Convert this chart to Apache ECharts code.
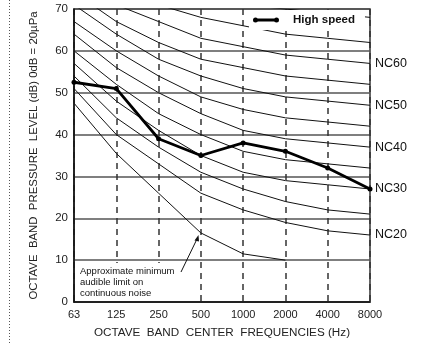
<!DOCTYPE html>
<html><head><meta charset="utf-8">
<script src="https://cdn.jsdelivr.net/npm/echarts@6/dist/echarts.min.js"></script>
<style>html,body{margin:0;padding:0;background:#fff}#c{width:422px;height:344px}</style>
</head><body><div id="c"></div>
<script>
const categories = ['63','125','250','500','1000','2000','4000','8000'];
const highSpeed = [52.5, 51, 39, 35, 38, 36, 32, 27];
const nc20 = [51, 40, 33, 26, 22, 19, 17, 16];
const nc25 = [54, 44, 37, 31, 27, 24, 22, 21];
const nc30 = [57, 48, 41, 35, 31, 29, 28, 27];
const nc35 = [60, 52, 45, 40, 36, 34, 33, 32];
const nc40 = [64, 56, 50, 45, 41, 39, 38, 37];
const nc45 = [67, 60, 54, 49, 46, 44, 43, 42];
const nc50 = [71, 64, 58, 54, 51, 49, 48, 47];
const nc55 = [74, 67, 62, 58, 56, 54, 53, 52];
const nc60 = [77, 71, 67, 63, 61, 59, 58, 57];
const nc65 = [80, 75, 71, 68, 66, 64, 63, 62];
const nc70 = [83, 79, 75, 72, 71, 70, 69, 68];
const threshold = [47.5, 35.5, 26, 16.5, 11.5, 10];
const ncCurves = [
  ['NC20', nc20, true], ['NC25', nc25, false], ['NC30', nc30, true], ['NC35', nc35, false],
  ['NC40', nc40, true], ['NC45', nc45, false], ['NC50', nc50, true], ['NC55', nc55, false],
  ['NC60', nc60, true], ['NC65', nc65, false], ['NC70', nc70, false]
];
const FONT = 'Liberation Sans, Arial, sans-serif';
const chart = echarts.init(document.getElementById('c'));
const series = ncCurves.map(([name, data, lab]) => ({
  name, type: 'line', data, symbol: 'none', silent: true,
  lineStyle: { color: '#111', width: 1 },
  endLabel: { show: lab, formatter: name, color: '#111', fontSize: 12.5, fontFamily: FONT, distance: 5 },
  z: 2
}));
series.push({
  name: 'threshold', type: 'line', data: threshold, symbol: 'none', silent: true,
  lineStyle: { color: '#111', width: 1 }, z: 2
});
series.push({
  name: 'High speed', type: 'line', data: highSpeed, symbol: 'circle', symbolSize: 5,
  itemStyle: { color: '#000' }, lineStyle: { color: '#000', width: 2.8 }, z: 3
});
const legendIcon = 'path://M0,2.5 A2.5,2.5 0 1,1 5,2.5 A2.5,2.5 0 1,1 0,2.5 Z M3,1 L23,1 L23,4 L3,4 Z M21,2.5 A2.5,2.5 0 1,1 26,2.5 A2.5,2.5 0 1,1 21,2.5 Z';
chart.setOption({
  animation: false,
  grid: { left: 74, right: 52, top: 9, bottom: 42, show: true, borderColor: '#333', borderWidth: 1.5 },
  legend: {
    data: [{ name: 'High speed', icon: legendIcon, itemStyle: { color: '#000' } }],
    left: 249, top: 10, backgroundColor: '#fff',
    padding: [4, 10, 4, 4], itemWidth: 26, itemHeight: 5,
    textStyle: { fontWeight: 'bold', fontSize: 11.5, fontFamily: FONT, color: '#111', padding: [0, 0, 0, 9] }
  },
  xAxis: {
    type: 'category', data: categories, boundaryGap: false,
    axisLine: { lineStyle: { color: '#111', width: 1.5 } }, axisTick: { show: false },
    axisLabel: { color: '#222', fontSize: 11, fontFamily: FONT, margin: 7 },
    splitLine: { show: true, lineStyle: { color: '#333', width: 1.5, type: [6, 5] } },
    name: 'OCTAVE  BAND  CENTER  FREQUENCIES (Hz)', nameLocation: 'middle', nameGap: 25,
    nameTextStyle: { color: '#222', fontSize: 11.7, fontFamily: FONT }
  },
  yAxis: {
    type: 'value', min: 0, max: 70, interval: 10,
    axisLine: { show: true, lineStyle: { color: '#111', width: 1.5 } }, axisTick: { show: false },
    axisLabel: { color: '#222', fontSize: 11.5, fontFamily: FONT, margin: 6 },
    splitLine: { show: true, lineStyle: { color: '#555', width: 1.5 } },
    name: 'OCTAVE  BAND  PRESSURE  LEVEL (dB) 0dB = 20µPa', nameLocation: 'middle', nameGap: 35,
    nameTextStyle: { color: '#222', fontSize: 11.4, fontFamily: FONT }
  },
  series,
  graphic: [
    { type: 'line', shape: { x1: 9.5, y1: 0, x2: 9.5, y2: 344 }, style: { stroke: '#555', lineWidth: 1, lineDash: [1, 2] } },
    { type: 'rect', shape: { x: 75, y: 263, width: 112, height: 38 }, style: { fill: '#fff' }, z: 10 },
    { type: 'text', left: 80, top: 266, z: 11,
      style: { text: 'Approximate minimum\naudible limit on\ncontinuous noise', fontSize: 9.5, lineHeight: 11, fill: '#111', fontFamily: FONT } },
    { type: 'line', shape: { x1: 181, y1: 272, x2: 197, y2: 239 }, style: { stroke: '#111', lineWidth: 1 }, z: 11 },
    { type: 'polygon', shape: { points: [[198.5, 235], [194.5, 240.5], [199, 241.5]] }, style: { fill: '#111' }, z: 11 }
  ]
});
</script></body></html>
